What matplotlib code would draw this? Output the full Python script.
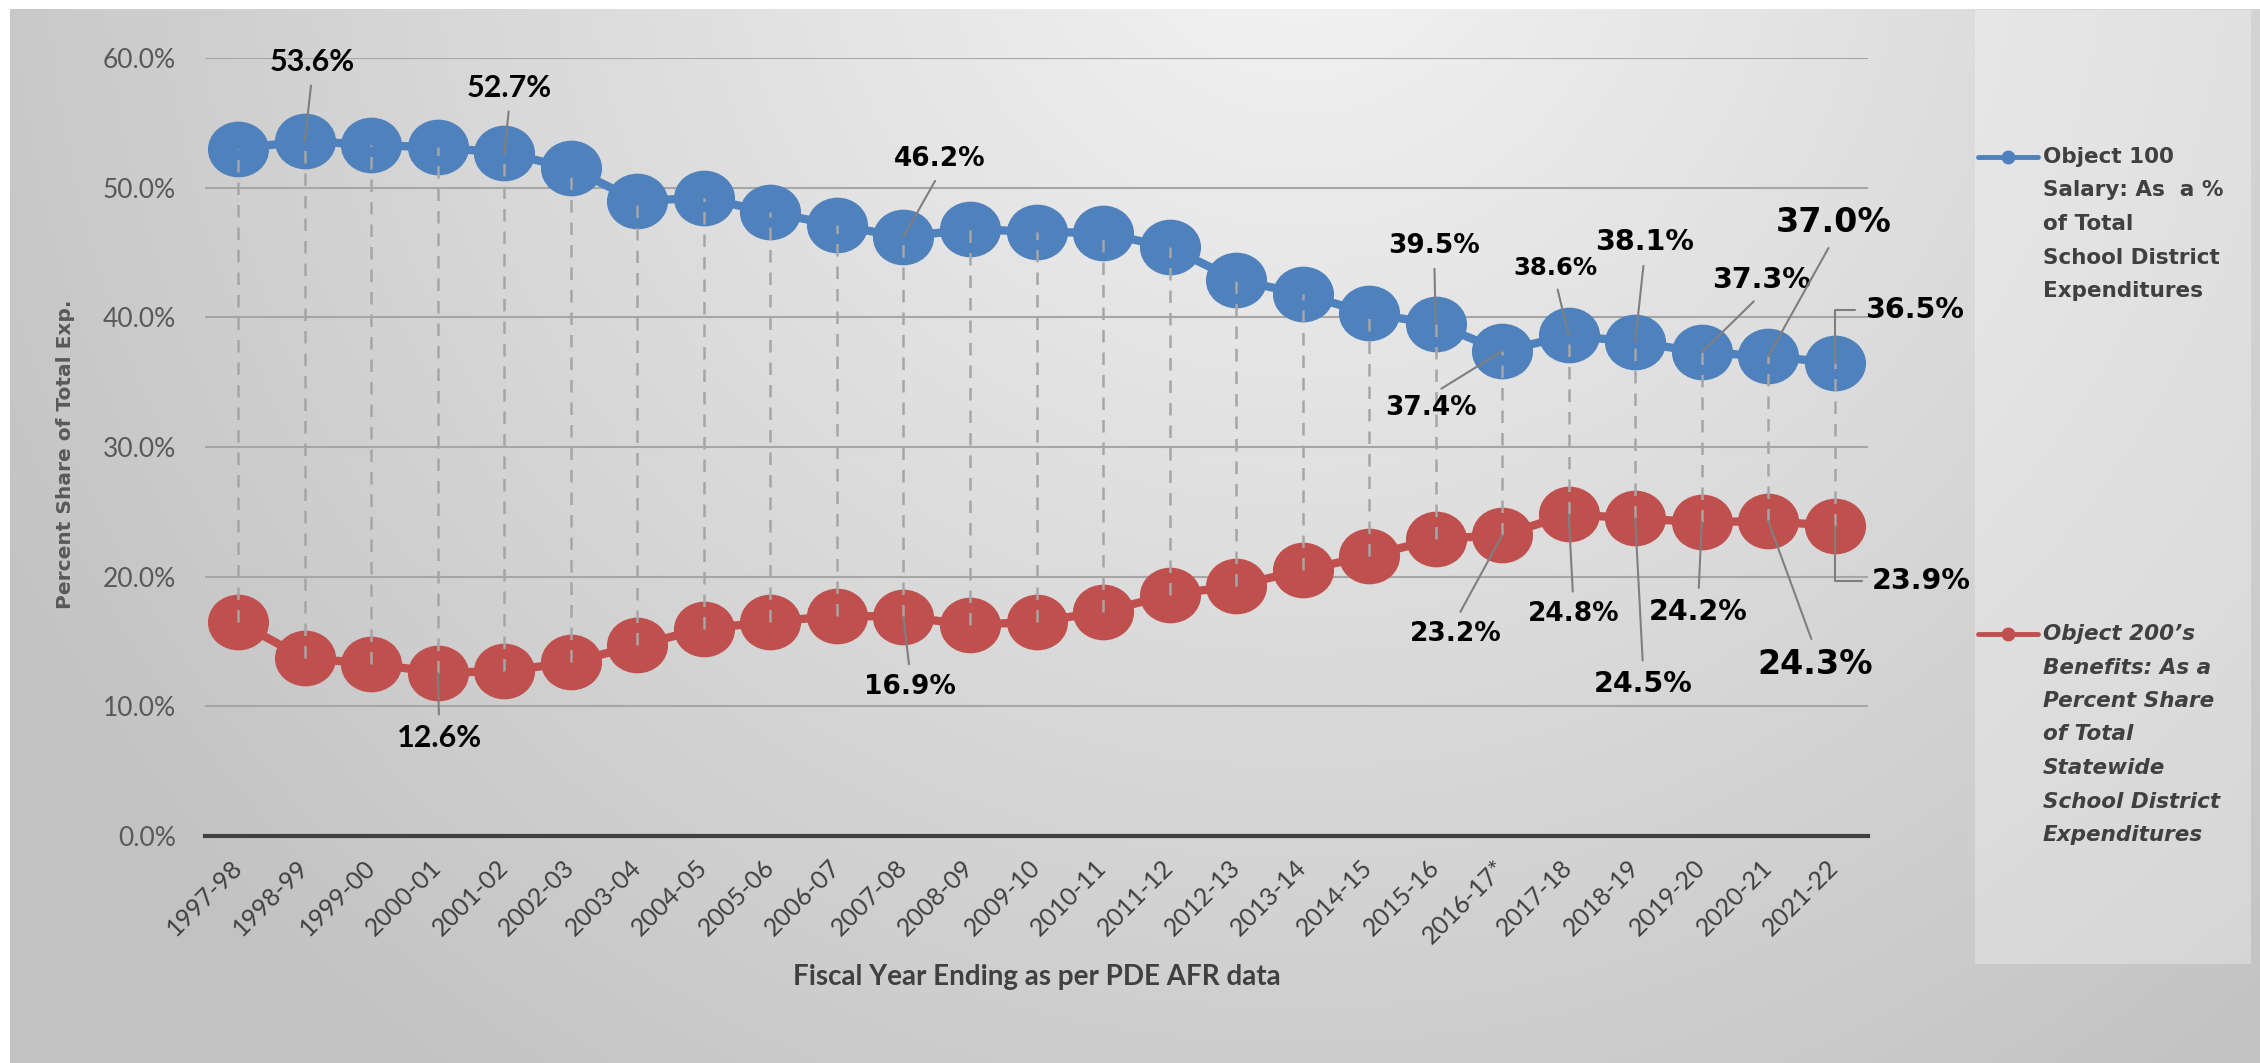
import numpy as np
import matplotlib
matplotlib.use('Agg')
import matplotlib.pyplot as plt
from matplotlib.path import Path
from matplotlib.transforms import Affine2D
from matplotlib.patches import Rectangle

# ---------------- data ----------------
years = ['1997-98', '1998-99', '1999-00', '2000-01', '2001-02', '2002-03', '2003-04',
         '2004-05', '2005-06', '2006-07', '2007-08', '2008-09', '2009-10', '2010-11',
         '2011-12', '2012-13', '2013-14', '2014-15', '2015-16', '2016-17*', '2017-18',
         '2018-19', '2019-20', '2020-21', '2021-22']
salary_pct = [53.0, 53.6, 53.3, 53.1, 52.7, 51.5, 49.0, 49.2, 48.1, 47.1, 46.2, 46.8, 46.6,
              46.5, 45.4, 42.9, 41.8, 40.3, 39.5, 37.4, 38.6, 38.1, 37.3, 37.0, 36.5]
benefits_pct = [16.5, 13.7, 13.3, 12.6, 12.7, 13.4, 14.7, 16.0, 16.5, 17.0, 16.9, 16.3, 16.5,
                17.3, 18.6, 19.3, 20.5, 21.6, 22.9, 23.2, 24.8, 24.5, 24.2, 24.3, 23.9]
y_ticks = [0, 10, 20, 30, 40, 50, 60]
legend_salary = ['Object 100', 'Salary: As  a %', 'of Total', 'School District', 'Expenditures']
legend_benefits = ['Object 200\u2019s', 'Benefits: As a', 'Percent Share', 'of Total',
                   'Statewide', 'School District', 'Expenditures']
x_title = 'Fiscal Year Ending as per PDE AFR data'
y_title = 'Percent Share of Total Exp.'

# label layout: (index, text x, text y, fontsize, family, mode)
salary_labels = [
    (1, 1.11, 59.7, 22, 'Lato', 'above'),
    (4, 4.08, 57.7, 22, 'Lato', 'above'),
    (10, 10.55, 52.2, 19, 'DejaVu Sans', 'above'),
    (18, 17.98, 45.5, 19, 'DejaVu Sans', 'above'),
    (19, 17.93, 33.0, 19, 'DejaVu Sans', 'below'),
    (20, 19.80, 43.8, 17.5, 'DejaVu Sans', 'above'),
    (21, 21.14, 45.8, 20.5, 'DejaVu Sans', 'above'),
    (22, 22.90, 42.9, 20.5, 'DejaVu Sans', 'above'),
    (23, 23.98, 47.3, 24, 'DejaVu Sans', 'above'),
    (24, 25.20, 40.6, 20.5, 'DejaVu Sans', 'elbow'),
]
benefit_labels = [
    (3, 3.02, 7.55, 22, 'Lato', 'below'),
    (10, 10.10, 11.5, 19, 'DejaVu Sans', 'below'),
    (19, 18.30, 15.6, 19, 'DejaVu Sans', 'below'),
    (20, 20.07, 17.1, 19, 'DejaVu Sans', 'below'),
    (21, 21.12, 11.7, 20.5, 'DejaVu Sans', 'below'),
    (22, 21.95, 17.3, 20.5, 'DejaVu Sans', 'below'),
    (23, 23.70, 13.2, 24, 'DejaVu Sans', 'below'),
    (24, 25.30, 19.7, 20.5, 'DejaVu Sans', 'elbow'),
]

BLUE = '#4f81bd'
RED = '#c0504d'

W, H, DPI = 2260, 1063, 100
fig = plt.figure(figsize=(W / DPI, H / DPI), dpi=DPI, facecolor='white')

# ---------------- background (pixel coordinates) ----------------
bg = fig.add_axes([0, 0, 1, 1], zorder=-10)
yy, xx = np.mgrid[0:H, 0:W]
r = np.hypot(xx - 1300, yy + 100)
t = np.clip(r / 1500.0, 0, 1)
g = (244 - 50 * t) / 255.0
img = np.dstack([g, g, g])
img[:9, :, :] = 1.0
img[:, :10, :] = 1.0
bg.imshow(img, extent=(0, W, H, 0), aspect='auto', interpolation='bilinear')
bg.set_xlim(0, W)
bg.set_ylim(H, 0)
bg.axis('off')

# legend box
bg.add_patch(Rectangle((1975, 10), 276, 954, facecolor='white', alpha=0.3, edgecolor='none'))

def legend_entry(y0, color, lines, style):
    bg.plot([1978, 2038], [y0, y0], color=color, lw=3.5, solid_capstyle='round')
    bg.plot([2008], [y0], marker='o', ms=9, color=color)
    for j, line in enumerate(lines):
        bg.text(2043, y0 + j * 33.5, line, va='center', ha='left', fontsize=15.5,
                fontweight='bold', style=style, color='#404040', family='DejaVu Sans')

legend_entry(157, BLUE, legend_salary, 'normal')
legend_entry(634, RED, legend_benefits, 'italic')

# ---------------- main axes ----------------
ax = fig.add_axes([205 / W, (H - 836) / H, (1868 - 205) / W, (836 - 58) / H])
ax.patch.set_alpha(0)

x = np.arange(len(years))
ell = Path.unit_circle().transformed(Affine2D().scale(1.1, 1.0))

ax.plot(x, salary_pct, color=BLUE, lw=6, marker=ell, ms=43, zorder=3)
ax.plot(x, benefits_pct, color=RED, lw=6, marker=ell, ms=43, zorder=3)
ax.vlines(x, benefits_pct, salary_pct, colors='#a6a6a6', linestyles=(0, (5, 4)), lw=1.8, zorder=4)

def add_labels(values, specs):
    for (i, tx, ty, fs, fam, mode) in specs:
        if mode == 'above':
            relpos, cs = (0.5, 0.0), 'arc3'
        elif mode == 'below':
            relpos, cs = (0.5, 1.0), 'arc3'
        else:
            relpos, cs = (0.0, 0.5), 'angle,angleA=0,angleB=90,rad=0'
        ax.annotate(f'{values[i]:.1f}%', xy=(x[i], values[i]), xytext=(tx, ty),
                    textcoords='data', ha='center', va='center', fontsize=fs,
                    fontweight='bold', family=fam, color='black', zorder=6,
                    annotation_clip=False,
                    arrowprops=dict(arrowstyle='-', color='#7f7f7f', lw=1.5,
                                    shrinkA=5, shrinkB=0, relpos=relpos,
                                    connectionstyle=cs))

add_labels(salary_pct, salary_labels)
add_labels(benefits_pct, benefit_labels)

ax.set_xlim(-0.5, len(years) - 0.5)
ax.set_ylim(0, 60)
ax.set_yticks(y_ticks)
ax.set_yticklabels([f'{v:.1f}%' for v in y_ticks], fontsize=19, family='Lato', color='#595959')
ax.set_xticks(x)
ax.set_xticklabels(years, rotation=45, ha='right', va='center', rotation_mode='anchor',
                   fontsize=18, family='Lato', color='#404040')
ax.tick_params(axis='x', length=0, pad=20)
ax.tick_params(axis='y', length=0, pad=21)

ax.set_axisbelow(True)
ax.yaxis.grid(True, color='#a6a6a6', lw=1.5)
for s in ['left', 'right', 'top']:
    ax.spines[s].set_visible(False)
ax.spines['bottom'].set_color('#404040')
ax.spines['bottom'].set_linewidth(3)

ax.set_ylabel(y_title, fontsize=14.5, fontweight='bold', color='#595959', family='DejaVu Sans')
ax.yaxis.set_label_coords(-0.078, 0.49)
ax.set_xlabel(x_title, fontsize=20, fontweight='bold', color='#404040', family='Lato')
ax.xaxis.set_label_coords(0.5, -0.181)
ax.xaxis.label.set_va('center')

fig.savefig('out.png', dpi=DPI, facecolor='white')
